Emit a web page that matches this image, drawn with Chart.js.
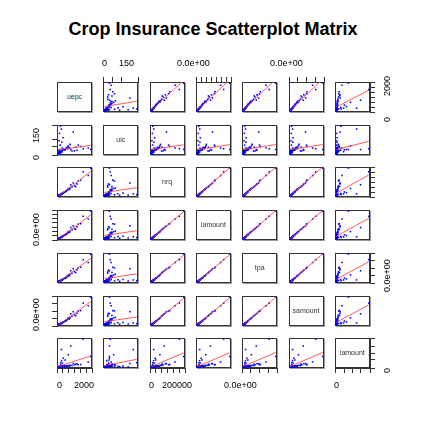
<!DOCTYPE html>
<html><head><meta charset="utf-8">
<script src="https://cdn.jsdelivr.net/npm/chart.js@4"></script>
<style>
body{margin:0;background:#fff;font-family:"Liberation Sans",Arial,sans-serif}
#wrap{position:relative;width:426px;height:426px}
.t{position:absolute;font-size:9px;color:#000;white-space:pre}
.box{position:absolute;border:1px solid #333;box-shadow:1px 1px 0 #999;box-sizing:border-box}
.lab{position:absolute;font-size:7px;color:#333;text-align:center}
canvas{position:absolute}
</style></head><body><div id="wrap">
<div class="t" style="left:0;width:426px;top:19px;text-align:center;font-size:18px;font-weight:bold">Crop Insurance Scatterplot Matrix</div>
</div>
<script>
// variables
var names = ['uepc','uic','nrq','lamount','tpa','samount','iamount'];
var uepc = [120,300,80,500,900,200,1500,60,400,700,2400,150,1100,250,50,600,1800,350,100,800,450,1300,30,650,2000,220,950,180,1200,75,550,2600,380,1600,130,750,280,1000,40,850,170,90,320,1400,260,520,
  20,45,70,90,110,140,160,190,35,55,25,65,85,105,125,15,230,270,310,60];
var uic = [8,20,5,25,40,15,25,90,30,45,40,60,20,170,4,35,50,25,140,55,30,20,2,40,35,18,65,190,150,6,28,30,110,60,9,35,80,30,3,45,12,7,25,45,15,30,
  2,4,6,3,9,12,5,14,8,18,1,10,25,7,30,3,16,11,40,22];
var nrq = [8000,20000,5000,40000,70000,15000,130000,6000,35000,60000,220000,12000,95000,22000,4000,55000,170000,28000,10000,80000,38000,110000,2000,50000,260000,18000,85000,14000,140000,7000,42000,300000,30000,160000,11000,65000,24000,120000,3000,75000,13000,9000,26000,100000,21000,45000,
  1500,3000,5500,7000,9000,10000,12500,15000,2500,4500,1800,6000,6500,8500,9500,1200,19000,23000,26000,4800];
var lamount = [90,210,60,430,760,170,1400,70,380,620,2300,130,1050,240,40,560,1750,320,95,840,400,1180,25,520,2600,200,900,150,1500,65,470,3200,300,1700,110,700,260,1300,30,750,140,85,280,1100,230,480,
  15,35,50,75,80,105,120,150,22,45,20,55,70,85,100,12,190,210,270,40];
var tpa = [110,260,70,520,900,200,1700,90,430,760,2800,160,1250,280,45,640,2100,380,120,1000,470,1450,30,600,3200,230,1100,175,1900,80,560,4000,350,2000,130,820,300,1600,38,880,165,100,330,1350,270,560,
  18,40,62,90,95,125,145,175,26,54,24,66,82,100,120,15,220,250,310,48];
var samount = [95,230,60,470,820,180,1550,80,400,700,2550,140,1150,260,40,600,1900,340,110,930,430,1330,28,560,2900,210,1000,160,1750,70,520,3700,320,1850,120,760,280,1480,34,820,150,92,300,1240,250,510,
  16,36,55,80,86,112,130,158,24,48,21,60,74,90,108,13,200,225,285,43];
var iamount = [5,12,3,30,20,60,90,4,250,15,140,8,40,500,2,35,70,10,6,350,25,55,1,18,800,14,45,120,95,5,200,300,22,60,9,28,16,600,2,38,7,4,110,80,180,11,
  1,2,3,4,6,5,9,12,1,3,2,7,4,15,8,1,10,20,14,3];
var steps = [500,50,50000,500,1000,1000,200];
var cols = [uepc,uic,nrq,lamount,tpa,samount,iamount];

var wrap = document.getElementById('wrap');
var X0 = 57, DX = 46.3, Y0 = 82, DY = 42.7, W = 35, H = 30, M = 8;

function fit(xs, ys){
  var n = xs.length, mx = 0, my = 0, sxy = 0, sxx = 0;
  for (var i = 0; i < n; i++){ mx += xs[i]; my += ys[i]; }
  mx /= n; my /= n;
  for (var i = 0; i < n; i++){ sxy += (xs[i]-mx)*(ys[i]-my); sxx += (xs[i]-mx)*(xs[i]-mx); }
  var b = sxy/sxx; return [my - b*mx, b];
}
function rng(a){ var mx = Math.max.apply(null, a); return [-0.04*mx, mx*1.04]; }

for (var r = 0; r < 7; r++){
  for (var c = 0; c < 7; c++){
    var bx = X0 + c*DX, by = Y0 + r*DY;
    var box = document.createElement('div');
    box.className = 'box';
    box.style.cssText = 'left:'+bx+'px;top:'+by+'px;width:'+W+'px;height:'+H+'px';
    wrap.appendChild(box);
    if (r == c){
      var l = document.createElement('div');
      l.className = 'lab';
      l.style.cssText = 'left:'+bx+'px;top:'+(by+11)+'px;width:'+W+'px';
      l.textContent = names[r];
      wrap.appendChild(l);
    }
    var xs = cols[c], ys = cols[r];
    var showTop = (r == 0 && c % 2 == 1), showBot = (r == 6 && c % 2 == 0);
    var showLeft = (c == 0 && r % 2 == 1), showRight = (c == 6 && r % 2 == 0);
    var cv = document.createElement('canvas');
    cv.style.cssText = 'left:'+(bx-M)+'px;top:'+(by-M)+'px;width:'+(W+2*M)+'px;height:'+(H+2*M)+'px';
    wrap.appendChild(cv);
    var datasets = [];
    if (r != c){
      var pts = xs.map(function(v, i){ return {x: v, y: ys[i]}; });
      var f = fit(xs, ys), xr = [Math.min.apply(null, xs), Math.max.apply(null, xs)];
      datasets.push({type:'line', data:[{x:xr[0], y:f[0]+f[1]*xr[0]}, {x:xr[1], y:f[0]+f[1]*xr[1]}],
        borderColor:'rgba(255,60,60,0.85)', borderWidth:1, pointRadius:0});
      datasets.push({data: pts, pointStyle:'rect', pointRadius:1.1, backgroundColor:'#0000ff', borderWidth:0});
    }
    var rx = rng(xs), ry = rng(ys);
    var axisX = {type:'linear', min:rx[0], max:rx[1], display: showTop || showBot, position: showTop ? 'top' : 'bottom',
      ticks:{display:false, stepSize:steps[c]}, grid:{drawOnChartArea:false, tickLength:5, color:'#333'}, border:{color:'#333'}};
    var axisY = {type:'linear', min:ry[0], max:ry[1], display: showLeft || showRight, position: showLeft ? 'left' : 'right',
      ticks:{display:false, stepSize:steps[r]}, grid:{drawOnChartArea:false, tickLength:5, color:'#333'}, border:{color:'#333'}};
    new Chart(cv, {
      type:'scatter',
      data:{datasets: datasets},
      options:{responsive:false, animation:false, events:[],
        layout:{padding:{top: showTop ? M-5 : M, bottom: showBot ? M-5 : M, left: showLeft ? M-5 : M, right: showRight ? M-5 : M}},
        plugins:{legend:{display:false}, tooltip:{enabled:false}},
        scales:{x: axisX, y: axisY}}
    });
  }
}

function txt(s, x, y, rot){
  var d = document.createElement('div');
  d.className = 't'; d.textContent = s;
  d.style.left = x+'px'; d.style.top = y+'px';
  if (rot){ d.style.transform = 'rotate(-90deg)'; d.style.transformOrigin = 'left top'; }
  wrap.appendChild(d);
}
// outer tick labels
txt('0', 102, 58); txt('150', 119, 58);
txt('0.0e+00', 177, 58); txt('0.0e+00', 270, 58);
txt('0', 57, 380); txt('2000', 74, 380);
txt('0', 149, 380); txt('200000', 162, 380);
txt('0.0e+00', 224, 380); txt('0', 334, 380);
txt('0', 31, 160, true); txt('150', 31, 143, true);
txt('0.0e+00', 31, 246, true); txt('0.0e+00', 31, 331, true);
txt('0', 382, 122, true); txt('2000', 382, 96, true);
txt('0.0e+00', 382, 292, true); txt('0', 382, 373, true);
</script></body></html>
